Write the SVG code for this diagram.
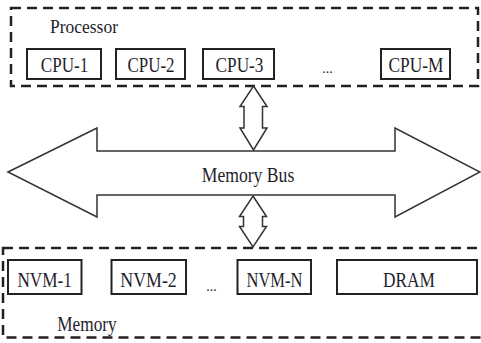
<svg xmlns="http://www.w3.org/2000/svg" width="481" height="343" viewBox="0 0 481 343">
  <style>
    .group { fill: none; stroke: #222; stroke-width: 2.5; stroke-dasharray: 10 6; }
    .unit { fill: #fff; stroke: #222; stroke-width: 2; }
    .label { font-family: "Liberation Serif", "Times New Roman", serif; fill: #1e1e2a; text-anchor: middle; }
    .unit-text { font-size: 21px; }
    .bus { fill: #fff; stroke: #333; stroke-width: 1.5; stroke-linejoin: miter; }
  </style>
  <rect width="481" height="343" fill="#fff"/>

  <!-- Processor group -->
  <g id="processor">
    <rect class="group" x="11" y="8" width="467" height="78"/>
    <text class="label" x="84" y="33" font-size="18" textLength="68" lengthAdjust="spacingAndGlyphs">Processor</text>
  </g>
  <g id="cpu-1">
    <rect class="unit" x="27" y="49" width="74" height="30"/>
    <text class="label unit-text" x="64.5" y="72" textLength="47.5" lengthAdjust="spacingAndGlyphs">CPU-1</text>
  </g>
  <g id="cpu-2">
    <rect class="unit" x="116" y="49" width="69" height="30"/>
    <text class="label unit-text" x="151" y="72" textLength="47" lengthAdjust="spacingAndGlyphs">CPU-2</text>
  </g>
  <g id="cpu-3">
    <rect class="unit" x="203" y="49" width="71" height="30"/>
    <text class="label unit-text" x="239.5" y="72" textLength="48" lengthAdjust="spacingAndGlyphs">CPU-3</text>
  </g>
  <text class="label" x="327.5" y="73" font-size="14">...</text>
  <g id="cpu-m">
    <rect class="unit" x="381" y="49" width="69" height="30"/>
    <text class="label unit-text" x="416" y="72" textLength="55" lengthAdjust="spacingAndGlyphs">CPU-M</text>
  </g>

  <!-- Bus and links -->
  <g id="connectors">
    <g id="memory-bus">
      <polygon class="bus" points="8,172 97,128 97,151 395,151 395,128 480,172 395,217 395,195 97,195 97,217"/>
      <text class="label" x="248" y="181.5" font-size="20" textLength="92.5" lengthAdjust="spacingAndGlyphs">Memory Bus</text>
    </g>
    <polygon class="bus" points="253.5,86 267,106.5 262.5,106.5 262.5,128 267,128 253.5,150 240,128 244,128 244,106.5 240,106.5"/>
    <polygon class="bus" points="253,196 266.5,216.5 262.5,216.5 262.5,226.5 266.5,226.5 253,247 239.5,226.5 243.5,226.5 243.5,216.5 239.5,216.5"/>
  </g>

  <!-- Memory group -->
  <g id="memory">
    <rect class="group" x="3" y="248" width="490" height="89.5"/>
    <text class="label" x="87" y="330.5" font-size="20" textLength="59.5" lengthAdjust="spacingAndGlyphs">Memory</text>
  </g>
  <g id="nvm-1">
    <rect class="unit" x="8" y="260" width="73.5" height="34"/>
    <text class="label unit-text" x="44.7" y="287" textLength="54.5" lengthAdjust="spacingAndGlyphs">NVM-1</text>
  </g>
  <g id="nvm-2">
    <rect class="unit" x="111.5" y="260" width="74.5" height="34"/>
    <text class="label unit-text" x="148.5" y="287" textLength="56.5" lengthAdjust="spacingAndGlyphs">NVM-2</text>
  </g>
  <text class="label" x="211.5" y="291" font-size="14">...</text>
  <g id="nvm-n">
    <rect class="unit" x="237.5" y="260" width="73.5" height="34"/>
    <text class="label unit-text" x="274.5" y="287" textLength="56" lengthAdjust="spacingAndGlyphs">NVM-N</text>
  </g>
  <g id="dram">
    <rect class="unit" x="337" y="260" width="140" height="34"/>
    <text class="label unit-text" x="409" y="287" textLength="52" lengthAdjust="spacingAndGlyphs">DRAM</text>
  </g>
</svg>
